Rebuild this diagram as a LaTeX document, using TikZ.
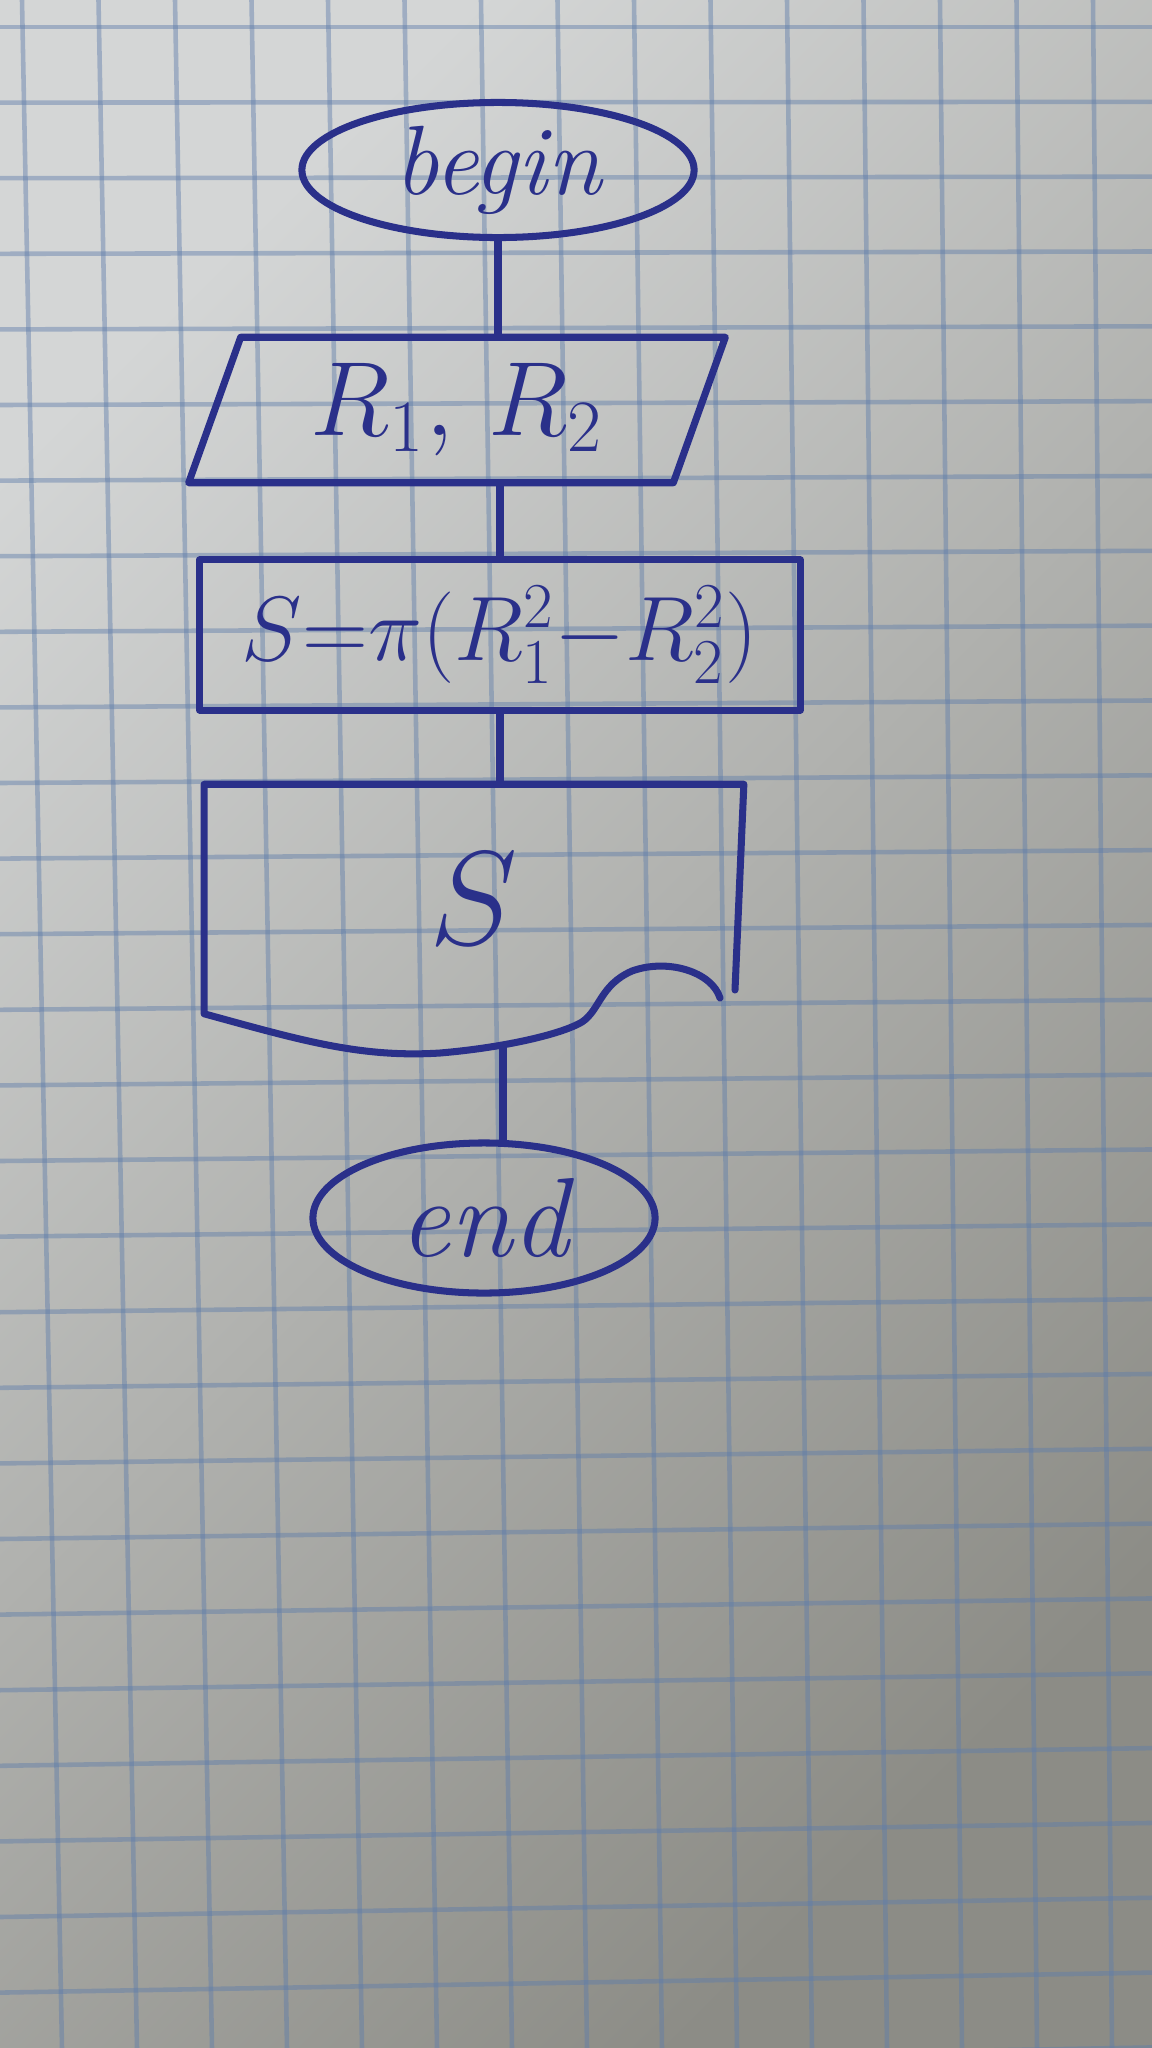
\RequirePackage{fix-cm}
\documentclass[tikz,border=0pt]{standalone}
\usetikzlibrary{shapes.geometric}
\definecolor{inkblue}{RGB}{42,48,138}
\definecolor{paperlight}{RGB}{212,214,214}
\definecolor{papermid}{RGB}{196,198,197}
\definecolor{paperdark}{RGB}{140,140,134}
\definecolor{gridblue}{RGB}{95,125,170}
\tikzset{
  ink/.style={draw=inkblue, line width=2pt, line cap=round, line join=round},
  gridline/.style={draw=gridblue, opacity=0.45, line width=1.3pt},
  term/.style={ellipse, ink, text=inkblue, inner sep=0pt},
  procbox/.style={rectangle, ink, text=inkblue, inner sep=0pt},
  hidden/.style={rectangle, text=inkblue, inner sep=0pt},
}
\begin{document}
\begin{tikzpicture}[x=0.01cm,y=-0.01cm]
\useasboundingbox (0,0) rectangle (1152,2048);
% paper and grid
\shade[top color=paperlight, middle color=papermid, bottom color=paperdark, shading angle=45] (0,0) rectangle (1152,2048);
\begin{scope}
\clip (0,0) rectangle (1152,2048);
\foreach \k in {0,...,14} \draw[gridline] ({22+76.5*\k},0) -- ({62+75*\k},2048);
\foreach \j in {0,...,27} \draw[gridline] (0,{27+75.6*\j}) -- (1152,{27+75.6*\j-0.77*\j});
\end{scope}

% flowchart
\node[term, minimum width=3.92cm, minimum height=1.35cm, font=\itshape\fontsize{28}{30}\selectfont] (start) at (498,170) {begin};

\node[hidden, minimum width=4.83cm, minimum height=1.44cm, font=\fontsize{30}{32}\selectfont] (input) at (457,410) {$R_1,\,R_2$};
\draw[ink] ([xshift=-0.26cm]input.south west) -- ([xshift=-0.26cm]input.south east)
  -- ([xshift=0.26cm]input.north east) -- ([xshift=0.26cm]input.north west) -- cycle;

\node[procbox, minimum width=6.0cm, minimum height=1.5cm, font=\fontsize{26}{28}\selectfont] (calc) at (500,635) {$S{=}\pi(R_1^2{-}R_2^2)$};

\node[hidden, minimum width=5.38cm, minimum height=2.28cm, font=\fontsize{38}{40}\selectfont] (output) at (474,899) {$S$};
\draw[ink] (735,990) -- (output.north east) -- (output.north west) -- (output.south west)
  .. controls (300,1040) and (360,1058) .. (440,1053)
  .. controls (500,1048) and (560,1035) .. (582,1022)
  .. controls (600,1010) and (600,985) .. (632,971)
  .. controls (668,958) and (712,972) .. (720,998);
\coordinate (outbase) at (503,1046);

\node[term, minimum width=3.42cm, minimum height=1.5cm, font=\itshape\fontsize{32}{34}\selectfont] (stop) at (484,1218) {end};

% connectors
\draw[ink] (start.south) -- (start.south |- input.north);
\draw[ink] (calc.north |- input.south) -- (calc.north);
\draw[ink] (calc.south) -- (calc.south |- output.north);
\draw[ink] (outbase) -- (outbase |- stop.north);
\end{tikzpicture}
\end{document}
